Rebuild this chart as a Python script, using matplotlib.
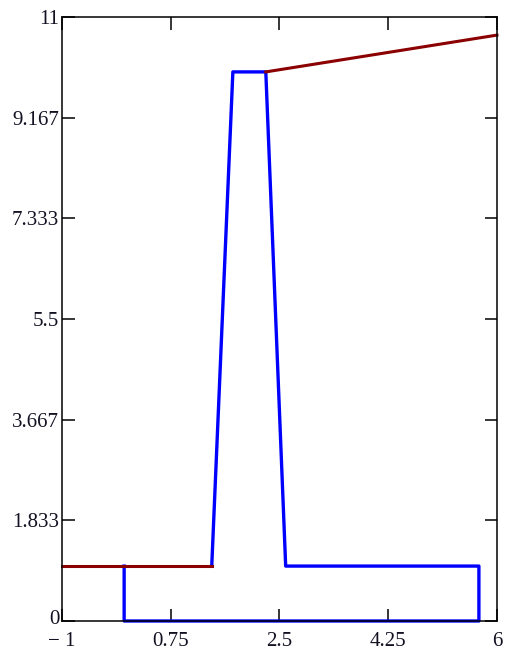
import matplotlib
matplotlib.use('Agg')
import matplotlib.pyplot as plt
import matplotlib.transforms as mtransforms

# Blue outline (trace 1)
blue_x = [0.0, 0.0, 5.71, 5.71, 2.6, 2.28, 1.75, 1.41]
blue_y = [1.0, 0.0, 0.0, 1.0, 1.0, 10.0, 10.0, 1.0]

# Dark red segments (trace 2)
red_left_x = [-1.0, 1.41]
red_left_y = [1.0, 1.0]
red_right_x = [2.28, 6.0]
red_right_y = [10.0, 10.67]

x_ticks = [-1, 0.75, 2.5, 4.25, 6]
x_labels = ['\u2212 1', '0.75', '2.5', '4.25', '6']
y_ticks = [0, 1.833, 3.667, 5.5, 7.333, 9.167, 11]
y_labels = ['0', '1.833', '3.667', '5.5', '7.333', '9.167', '11']

fig = plt.figure(figsize=(5.05, 6.51), dpi=100)
ax = fig.add_axes([0.1228, 0.0461, 0.8612, 0.9278])

ax.plot(blue_x, blue_y, color='#0000ff', lw=2.4, clip_on=False)
ax.plot(red_left_x, red_left_y, color='#8b0000', lw=2.2, clip_on=False)
ax.plot(red_right_x, red_right_y, color='#8b0000', lw=2.2, clip_on=False)

ax.set_xlim(-1, 6)
ax.set_ylim(0, 11)
ax.set_xticks(x_ticks)
ax.set_xticklabels(x_labels)
ax.set_yticks(y_ticks)
ax.set_yticklabels(y_labels)

for lab in ax.get_xticklabels() + ax.get_yticklabels():
    lab.set_family(['Liberation Serif', 'DejaVu Serif'])
    lab.set_fontsize(15)
    lab.set_color('#111122')

ax.tick_params(direction='in', length=9, width=1.1, top=True, right=True)
ax.tick_params(axis='x', pad=8)
ax.tick_params(axis='y', pad=2)
for sp in ax.spines.values():
    sp.set_linewidth(1.1)
    sp.set_color('black')

# nudge the y "0" label up a little so it clears "- 1"
zero_lab = ax.get_yticklabels()[0]
zero_lab.set_transform(zero_lab.get_transform()
                       + mtransforms.ScaledTranslation(0, 3 / 72, fig.dpi_scale_trans))

fig.savefig('out.png', dpi=100)
